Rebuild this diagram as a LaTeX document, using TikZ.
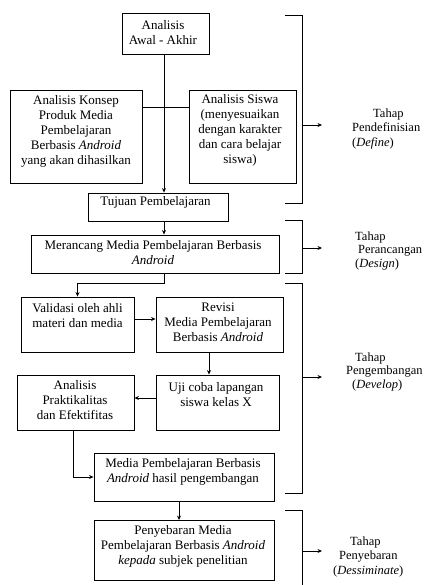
\documentclass[tikz,border=0pt]{standalone}
\usepackage{fontspec}
\setmainfont{Liberation Serif}
\usetikzlibrary{arrows.meta}
\begin{document}
\begin{tikzpicture}[x=1pt,y=-1pt,
 box/.style={draw, line width=0.9pt, inner sep=0pt},
 txt/.style={align=center, inner sep=0pt, font=\fontsize{13}{15}\selectfont},
 lbl/.style={anchor=base west, inner sep=0pt, font=\fontsize{12.5}{15}\selectfont},
 arr/.style={-{Stealth[length=4.5pt,width=4pt]}, line width=0.9pt},
 ln/.style={line width=0.9pt}]
\useasboundingbox (0,0) rectangle (424,585);
% boxes
\node[box, minimum width=87, minimum height=41] (A) at (165.5,33.5) {};
\node[box, minimum width=132, minimum height=93] (L) at (76,136.5) {};
\node[box, minimum width=107, minimum height=93] (R) at (242.5,136.5) {};
\node[box, minimum width=140, minimum height=28] (T) at (158,207) {};
\node[box, minimum width=248, minimum height=38] (M) at (155,254) {};
\node[box, minimum width=113, minimum height=55] (V) at (77.5,324.5) {};
\node[box, minimum width=127, minimum height=55] (Rv) at (219.5,324.5) {};
\node[box, minimum width=123, minimum height=55] (U) at (217.5,402.5) {};
\node[box, minimum width=117, minimum height=55] (P) at (75.5,402.5) {};
\node[box, minimum width=180, minimum height=48] (H) at (184,477) {};
\node[box, minimum width=180, minimum height=60] (S) at (184,550.5) {};
% texts
\node[txt] (tA) at (163,32.5) {Analisis\\Awal - Akhir};
\node[txt] (tL) at (76,131) {Analisis Konsep\\Produk Media\\Pembelajaran\\Berbasis \textit{Android}\\yang akan dihasilkan};
\node[txt] (tR) at (240,130) {Analisis Siswa\\(menyesuaikan\\dengan karakter\\dan cara belajar\\siswa)};
\node[txt] (tT) at (155.5,202) {Tujuan Pembelajaran};
\node[txt] (tM) at (153,252.5) {Merancang Media Pembelajaran Berbasis\\\textit{Android}};
\node[txt] (tV) at (77.5,315.5) {Validasi oleh ahli\\materi dan media};
\node[txt] (tRv) at (218,322) {Revisi\\Media Pembelajaran\\Berbasis \textit{Android}};
\node[txt] (tU) at (216,394.5) {Uji coba lapangan\\siswa kelas X};
\node[txt] (tP) at (75,400.5) {Analisis\\Praktikalitas\\dan Efektifitas};
\node[txt] (tH) at (183,472) {Media Pembelajaran Berbasis\\\textit{Android} hasil pengembangan};
\node[txt] (tS) at (183,546.5) {Penyebaran Media\\Pembelajaran Berbasis \textit{Android}\\\textit{kepada} subjek penelitian};
% helper coordinates
\coordinate (spine) at (164,0);
\coordinate (h1) at (0,107);
\coordinate (vx) at (0,319);
\coordinate (rx) at (209,0);
\coordinate (ux) at (0,398);
\coordinate (px) at (73,0);
\coordinate (hx) at (179,0);
% connectors
\draw[ln] (L.east |- h1) -- (R.west |- h1);
\draw[arr] (A.south -| spine) -- (T.north -| spine);
\draw[arr] (T.south -| spine) -- (M.north -| spine);
\draw[arr] (M.south -| spine) -- ++(0,10) -| (V.north);
\draw[arr] (V.east |- vx) -- (Rv.west |- vx);
\draw[arr] (Rv.south -| rx) -- (U.north -| rx);
\draw[arr] (U.west |- ux) -- (P.east |- ux);
\draw[arr] (P.south -| px) |- (H.west);
\draw[arr] (H.south -| hx) -- (S.north -| hx);
% brackets
\draw[ln] (285,15) -- (302,15) -- (302,203) -- (285,203);
\draw[ln] (285,220) -- (302,220) -- (302,273) -- (285,273);
\draw[ln] (285,283) -- (302,283) -- (302,493) -- (285,493);
\draw[ln] (285,510) -- (302,510) -- (302,590);
\coordinate (b1) at (302,125); \coordinate (e1) at (322,125);
\coordinate (b2) at (302,248); \coordinate (e2) at (322,248);
\coordinate (b3) at (302,377); \coordinate (e3) at (322,377);
\coordinate (b4) at (302,551); \coordinate (e4) at (322,551);
\draw[arr] (b1) -- (e1);
\draw[arr] (b2) -- (e2);
\draw[arr] (b3) -- (e3);
\draw[arr] (b4) -- (e4);
% stage labels
\node[lbl] (d1) at (373,118) {Tahap};
\node[lbl] (d2) at (352,132) {Pendefinisian};
\node[lbl] (d3) at (352,147) {(\textit{Define})};
\node[lbl] (r1) at (355,240) {Tahap};
\node[lbl] (r2) at (358,253) {Perancangan};
\node[lbl] (r3) at (355,267) {(\textit{Design})};
\node[lbl] (p1) at (355,361) {Tahap};
\node[lbl] (p2) at (346,374) {Pengembangan};
\node[lbl] (p3) at (352,388) {(\textit{Develop})};
\node[lbl] (s1) at (350,545) {Tahap};
\node[lbl] (s2) at (339,559) {Penyebaran};
\node[lbl] (s3) at (333,574) {(\textit{Dessiminate})};
\end{tikzpicture}
\end{document}
